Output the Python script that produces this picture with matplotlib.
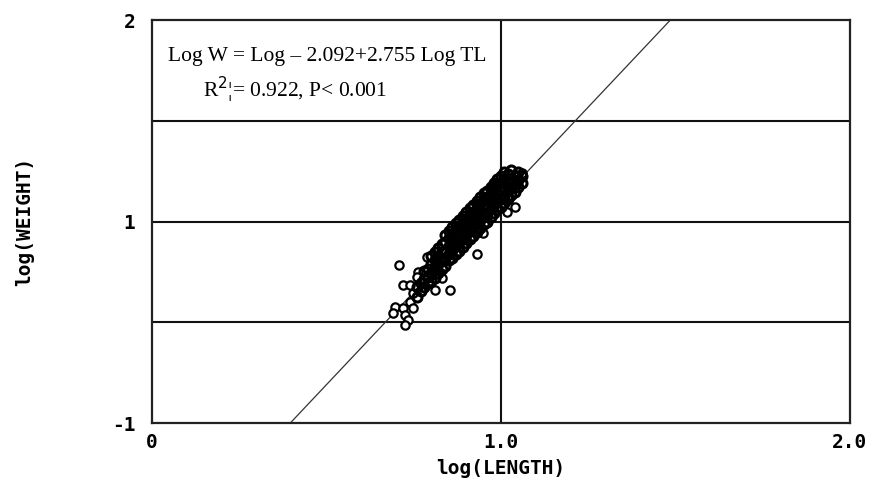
import matplotlib.pyplot as plt
import numpy as np

# regression printed on the chart
intercept = -2.092
slope = 2.755

# log(length), log(weight) - dense band, row by row
row0_len = [0.76, 0.77, 0.78, 0.79, 0.80, 0.81, 0.82, 0.83, 0.84, 0.85, 0.86,
            0.87, 0.88, 0.89, 0.90, 0.91, 0.92, 0.93, 0.94, 0.95, 0.96, 0.97,
            0.98, 0.99, 1.00, 1.01, 1.02, 1.03, 1.04, 1.05, 1.06]
row0_wt = [-0.06, -0.02, 0.01, 0.04, 0.06, 0.08, 0.12, 0.15, 0.17, 0.21, 0.23,
           0.26, 0.28, 0.31, 0.34, 0.37, 0.39, 0.42, 0.45, 0.48, 0.50, 0.53,
           0.56, 0.59, 0.61, 0.64, 0.67, 0.70, 0.72, 0.76, 0.79]
row1_wt = [0.01, 0.04, 0.07, 0.09, 0.12, 0.15, 0.18, 0.21, 0.23, 0.26, 0.29,
           0.32, 0.35, 0.37, 0.40, 0.43, 0.45, 0.48, 0.51, 0.54, 0.56, 0.59,
           0.62, 0.65, 0.67, 0.70, 0.73, 0.76, 0.78, 0.81, 0.84]
row2_len = [0.78, 0.79, 0.80, 0.81, 0.82, 0.83, 0.84, 0.85, 0.86, 0.87, 0.88,
            0.89, 0.90, 0.91, 0.92, 0.93, 0.94, 0.95, 0.96, 0.97, 0.98, 0.99,
            1.00, 1.01, 1.02, 1.03, 1.04, 1.05]
row2_wt = [0.13, 0.15, 0.18, 0.21, 0.24, 0.27, 0.29, 0.32, 0.35, 0.38, 0.40,
           0.43, 0.46, 0.49, 0.51, 0.54, 0.57, 0.60, 0.62, 0.65, 0.68, 0.71,
           0.73, 0.76, 0.79, 0.82, 0.84, 0.87]
row3_len = [0.80, 0.81, 0.82, 0.83, 0.84, 0.85, 0.86, 0.87, 0.88, 0.89, 0.90,
            0.91, 0.92, 0.93, 0.94, 0.95, 0.96, 0.97, 0.98, 0.99, 1.00, 1.01,
            1.02, 1.03]
row3_wt = [0.24, 0.27, 0.30, 0.33, 0.35, 0.38, 0.41, 0.44, 0.46, 0.49, 0.52,
           0.55, 0.57, 0.60, 0.63, 0.66, 0.68, 0.71, 0.74, 0.77, 0.79, 0.82,
           0.85, 0.88]
row4_len = [0.84, 0.85, 0.86, 0.87, 0.88, 0.89, 0.90, 0.91, 0.92, 0.93, 0.94,
            0.95, 0.96, 0.97, 0.98, 0.99, 1.00, 1.01]
row4_wt = [0.40, 0.43, 0.46, 0.49, 0.51, 0.54, 0.57, 0.60, 0.62, 0.65, 0.68,
           0.71, 0.73, 0.76, 0.79, 0.82, 0.84, 0.87]

# scattered fish outside the band
out_len = [1.060, 1.040, 1.040, 1.017, 1.020, 0.940, 0.948, 0.931, 0.708,
           0.762, 0.759, 0.788, 0.719, 0.739, 0.748, 0.854, 0.811, 0.739,
           0.696, 0.719, 0.748, 0.691, 0.725, 0.734, 0.725, 0.831]
out_wt = [0.861, 0.846, 0.608, 0.571, 0.675, 0.638, 0.414, 0.258, 0.176,
          0.124, 0.087, 0.236, 0.027, 0.027, -0.032, -0.010, -0.010, -0.099,
          -0.136, -0.144, -0.144, -0.181, -0.196, -0.233, -0.270, 0.079]

grid_y = [-0.25, 0.5, 1.25]
ytick_pos = [-1, 0.5, 2]
ytick_lab = ['-1', '1', '2']
xtick_pos = [0, 1, 2]
xtick_lab = ['0', '1.0', '2.0']

band_len = row0_len + row0_len + row2_len + row3_len + row4_len
band_wt = row0_wt + row1_wt + row2_wt + row3_wt + row4_wt

fig = plt.figure(figsize=(8.79, 4.82), dpi=100)
ax = fig.add_axes([0.1729, 0.1224, 0.7941, 0.8361])
ax.set_xlim(0, 2)
ax.set_ylim(-1, 2)

for s in ax.spines.values():
    s.set_linewidth(1.6)
    s.set_color('#222222')
for g in grid_y:
    ax.axhline(g, color='#111111', lw=1.5, zorder=1)
ax.axvline(1.0, color='#111111', lw=1.5, zorder=1)

xs = np.array([0.2, 1.7])
ax.plot(xs, intercept + slope * xs, color='#333333', lw=0.9, zorder=2)

# hollow circles; overlapping rims turn the band solid black
ax.plot(out_len, out_wt, 'o', mfc='white', mec='black', ms=6, mew=1.6, zorder=3)
ax.plot(band_len, band_wt, 'o', mfc='none', mec='black', ms=6.5, mew=2.2, zorder=4)

mono = dict(family='DejaVu Sans Mono', weight='bold', size=14)
ax.set_xticks(xtick_pos, xtick_lab, **mono)
ax.set_yticks(ytick_pos, ytick_lab, **mono)
ax.tick_params(axis='x', length=0, pad=7)
ax.tick_params(axis='y', length=0, pad=12)
ax.set_xlabel('log(LENGTH)', family='DejaVu Sans Mono', weight='bold', size=14,
              labelpad=5)
ax.set_ylabel('log(WEIGHT)', family='DejaVu Sans Mono', weight='bold', size=14,
              labelpad=56)

ax.text(0.501, 1.725, 'Log W = Log \u2013 2.092+2.755 Log TL',
        family='Liberation Serif', size=15.5, ha='center', va='center')
ax.text(0.146, 1.48, 'R$^{2}$\u00a6= 0.922, P< 0.001', family='Liberation Serif',
        size=15.5, ha='left', va='center')

fig.savefig('out.png', dpi=100)
